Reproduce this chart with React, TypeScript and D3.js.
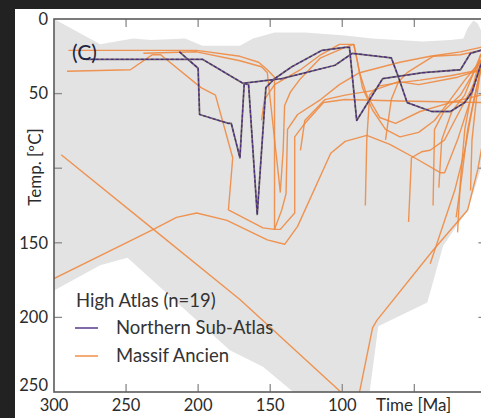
import React from "react";
import * as d3 from "d3";

type Pt = [number, number]; // [age Ma, temperature °C]

// Thermal-history envelope (grey field)
const envelope: Pt[] = [
  [300, 0], [268, 17], [245, 13], [233, 14], [209, 13], [197, 18], [171, 18], [162, 13],
  [147, 9], [126, 9], [98, 11], [79, 13], [44, 15], [25, 14], [16, 13], [13, 6], [9, 1],
  [6, 3], [2, 11], [2, 95], [13, 128], [30, 152], [41, 190], [75, 206], [81, 250],
  [134, 250], [155, 233], [178, 222], [249, 160], [268, 165], [300, 182],
];

// Northern Sub-Atlas paths
const northernSubAtlas: Pt[][] = [
  [[278, 27], [197, 27], [169, 43], [165, 44], [159, 131], [153, 46], [147, 40], [135, 32], [114, 21], [98, 19], [95, 19], [90, 68], [72, 40], [44, 36], [18, 34], [11, 23], [4, 21], [0, 20]],
  [[213, 22], [200, 33], [199, 64], [179, 70], [177, 70], [171, 93], [168, 43], [142, 40], [105, 31], [93, 23], [66, 26], [61, 39], [55, 56], [38, 62], [25, 62], [15, 56], [10, 49], [4, 31], [0, 22]],
];

// Massif Ancien paths
const massifAncien: Pt[][] = [
  [[295, 91], [231, 141], [171, 188], [101, 250]],
  [[300, 174], [231, 141], [215, 133], [201, 130], [180, 135], [152, 148], [140, 151], [131, 139], [108, 90], [98, 82], [83, 78], [67, 84], [48, 94], [32, 103], [29, 103], [20, 81], [11, 54], [4, 29], [0, 22]],
  [[290, 21], [201, 21], [171, 25], [158, 29], [152, 34], [147, 39], [147, 141], [143, 141], [133, 130], [133, 79], [126, 70], [113, 56], [98, 54], [60, 55], [4, 56], [0, 56]],
  [[291, 35], [247, 34], [232, 24], [226, 24], [198, 46], [188, 51], [176, 93], [179, 128], [155, 140], [147, 141], [142, 128], [139, 117], [138, 74], [131, 64], [115, 54], [102, 44], [88, 36], [60, 29], [39, 25], [18, 22], [4, 19], [0, 19]],
  [[238, 23], [201, 22], [171, 28], [156, 32], [152, 36], [143, 116], [141, 88], [140, 58], [136, 49], [129, 40], [115, 26], [98, 19], [92, 17], [90, 26], [88, 36], [83, 51], [74, 66], [63, 70], [46, 62], [25, 56], [4, 51], [0, 50]],
  [[156, 68], [154, 54], [147, 44], [129, 34], [115, 24], [102, 17], [92, 17], [90, 26], [86, 46], [79, 61], [70, 74], [60, 79], [47, 76], [36, 68], [25, 54], [15, 41], [4, 28], [0, 22]],
  [[54, 136], [52, 93], [45, 89], [39, 88], [29, 81], [22, 68], [11, 48], [4, 34], [0, 25]],
  [[84, 125], [83, 81], [81, 51], [75, 45], [63, 43], [46, 41], [25, 38], [4, 34], [0, 30]],
  [[37, 125], [36, 74], [29, 61], [18, 51], [4, 28], [0, 22]],
  [[33, 113], [31, 81], [24, 62], [15, 51], [4, 24], [0, 20]],
  [[88, 250], [79, 207], [76, 202], [37, 155], [13, 128], [6, 101], [3, 85], [0, 60]],
  [[39, 164], [29, 135], [22, 115], [15, 88], [10, 61], [4, 34], [0, 25]],
  [[20, 143], [18, 108], [15, 74], [10, 48], [4, 24], [0, 20]],
  [[11, 115], [10, 81], [7, 54], [4, 34], [0, 25]],
  [[21, 133], [17, 105], [13, 74], [8, 51], [4, 34], [0, 28]],
  [[129, 88], [126, 68], [112, 54], [98, 51], [79, 48], [61, 42], [47, 44], [20, 39], [4, 34], [0, 30]],
  [[70, 81], [66, 54], [61, 42], [55, 36], [37, 25], [18, 24], [4, 21], [0, 20]],
];

const ageTicks = [250, 200, 150, 100, 50];
const ageLabels = [300, 250, 200, 150, 100];
const tempTicks = [50, 100, 150, 200];
const tempLabels = [0, 50, 150, 200, 250];

const FONT = "Lato, 'Open Sans', sans-serif";
const ORANGE = "#ef873c";
const PURPLE = "#4a2a85";

export default function App() {
  const W = 481, H = 418;
  const left = 54, right = 486.4, top = 19, bottom = 392;
  const x = d3.scaleLinear().domain([300, 0]).range([left, right]);
  const y = d3.scaleLinear().domain([0, 250]).range([top, bottom]);
  const line = d3.line<Pt>().x(d => x(d[0])).y(d => y(d[1]));
  const tickColor = "#8a8a8a";
  const axisColor = "#5a5a5a";

  return (
    <svg width={W} height={H} style={{ position: "absolute", left: 0, top: 0 }} fontFamily={FONT}>
      <rect x={0} y={0} width={W} height={H} fill="#222222" />
      <rect x={15} y={9} width={W - 15} height={H - 9} fill="#ffffff" />
      <defs>
        <clipPath id="plot">
          <rect x={left} y={top} width={right - left} height={bottom - top} />
        </clipPath>
      </defs>
      <g clipPath="url(#plot)">
        <path d={(line(envelope) || "") + "Z"} fill="#e3e3e3" stroke="none" />
        {massifAncien.map((p, i) => (
          <path key={"m" + i} d={line(p) || ""} fill="none" stroke={ORANGE} strokeWidth={1.4} strokeOpacity={0.88} strokeLinejoin="round" />
        ))}
        {northernSubAtlas.map((p, i) => (
          <g key={"n" + i}>
            <path d={line(p) || ""} fill="none" stroke="#6f6468" strokeWidth={1.8} strokeLinejoin="round" />
            <path d={line(p) || ""} fill="none" stroke={PURPLE} strokeWidth={1.2} strokeDasharray="3 2" strokeLinejoin="round" />
          </g>
        ))}
      </g>
      {/* ticks */}
      {ageTicks.map(t => (
        <g key={"at" + t}>
          <line x1={x(t)} x2={x(t)} y1={top} y2={top + 8} stroke={tickColor} strokeWidth={1.3} />
          <line x1={x(t)} x2={x(t)} y1={bottom} y2={bottom - 8} stroke={tickColor} strokeWidth={1.3} />
        </g>
      ))}
      {tempTicks.map(t => (
        <g key={"tt" + t}>
          <line x1={left} x2={left + 8} y1={y(t)} y2={y(t)} stroke={tickColor} strokeWidth={1.3} />
          <line x1={right} x2={right - 8} y1={y(t)} y2={y(t)} stroke={tickColor} strokeWidth={1.3} />
        </g>
      ))}
      {/* frame */}
      <rect x={left} y={top} width={right - left} height={bottom - top} fill="none" stroke={axisColor} strokeWidth={1.6} />
      {/* tick labels */}
      {ageLabels.map(t => (
        <text key={"al" + t} x={x(t)} y={411} textAnchor="middle" fontSize={16.5} fill="#2b2b2b">{t}</text>
      ))}
      {tempLabels.map(t => (
        <text key={"tl" + t} x={48} y={Math.min(y(t) + 5.8, 391)} textAnchor="end" fontSize={16.5} fill="#2b2b2b">{t}</text>
      ))}
      <text x={376} y={411} fontSize={17} fill="#2b2b2b">Time [Ma]</text>
      <text transform="translate(41,167) rotate(-90)" textAnchor="middle" fontSize={17} fill="#2b2b2b">Temp. [ºC]</text>
      <text x={72} y={60} fontSize={21} fill="#1c2541">(C)</text>
      {/* legend */}
      <text x={76} y={307} fontSize={18.5} fill="#333333">High Atlas (n=19)</text>
      <line x1={75} x2={98} y1={328} y2={328} stroke={PURPLE} strokeWidth={1.4} />
      <text x={116} y={334} fontSize={18.5} fill="#333333">Northern Sub-Atlas</text>
      <line x1={75} x2={98} y1={356} y2={356} stroke={ORANGE} strokeWidth={1.4} />
      <text x={116} y={362} fontSize={18.5} fill="#333333">Massif Ancien</text>
    </svg>
  );
}
